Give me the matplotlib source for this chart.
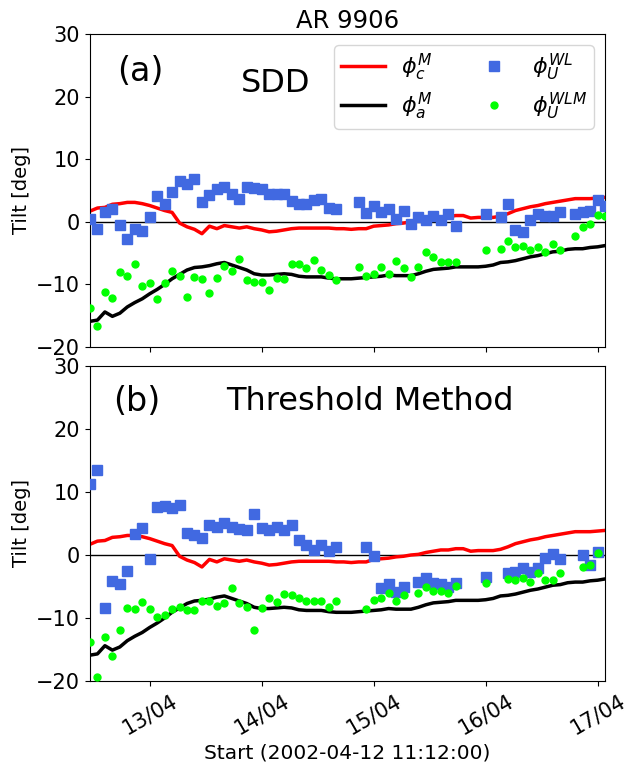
import numpy as np
import matplotlib
matplotlib.use("Agg")
import matplotlib.pyplot as plt
import matplotlib.dates as mdates
from datetime import datetime, timedelta

nan = np.nan
start = datetime(2002, 4, 12, 11, 12, 0)
cadence_min = 96
n_points = 70
times = [start + timedelta(minutes=cadence_min * k) for k in range(n_points)]

phi_c_M = [1.7, 2.2, 2.3, 2.8, 2.9, 3.1, 3.1, 2.9, 2.6, 2.2,
           1.8, 1.5, -0.2, -0.8, -1.2, -1.9, -0.7, -1.1, -0.6, -0.8,
           -1.0, -0.8, -1.1, -1.3, -1.6, -1.5, -1.3, -1.1, -1.0, -1.0,
           -1.0, -1.0, -1.0, -1.1, -1.1, -1.2, -1.1, -1.1, -0.7, -0.6,
           -0.5, -0.3, -0.2, 0.0, 0.1, 0.4, 0.6, 0.8, 0.8, 1.0,
           1.0, 0.6, 0.7, 0.7, 0.7, 0.9, 1.3, 1.8, 2.1, 2.4,
           2.6, 2.9, 3.1, 3.3, 3.5, 3.7, 3.7, 3.7, 3.8, 3.9]

phi_a_M = [-15.9, -15.7, -14.4, -15.1, -14.6, -13.6, -12.9, -12.3, -11.5, -10.8,
           -10.0, -9.1, -8.4, -7.7, -7.3, -7.2, -7.0, -6.7, -6.5, -6.9,
           -7.3, -7.7, -8.3, -8.5, -8.5, -8.4, -8.3, -8.4, -8.7, -8.8,
           -8.8, -8.8, -9.0, -9.1, -9.1, -9.1, -9.0, -8.9, -8.8, -8.7,
           -8.5, -8.6, -8.6, -8.6, -8.3, -7.9, -7.6, -7.5, -7.4, -7.2,
           -7.2, -7.2, -7.2, -7.1, -6.9, -6.5, -6.4, -6.2, -5.9, -5.6,
           -5.4, -5.1, -4.8, -4.7, -4.4, -4.3, -4.3, -4.1, -4.0, -3.8]

sdd_WL = [0.5, -1.2, 1.5, 2.1, -0.5, -2.7, -1.1, -1.5, 0.7, 4.1,
          2.9, 4.7, 6.5, 6.1, 6.9, 3.2, 4.3, 5.3, 5.6, 4.5,
          3.7, 5.6, 5.4, 5.3, 4.5, 4.5, 4.4, 3.3, 2.9, 2.9,
          3.5, 3.6, 2.2, 2.0, nan, nan, 3.1, 1.4, 2.5, 1.5,
          2.0, 0.5, 1.7, -0.4, 0.8, 0.3, 0.9, 0.3, 1.2, -0.7,
          nan, nan, nan, 1.3, nan, 0.8, 2.9, -1.3, -1.6, 0.3,
          1.2, 1.0, 0.9, 1.5, nan, 1.2, 1.5, 1.7, 3.5, 2.5]

sdd_WLM = [-13.7, -16.6, -11.2, -12.1, -8.0, -8.6, -6.7, -10.2, -9.8, -12.4,
           -9.8, -7.9, -8.7, -12.0, -8.8, -9.1, -11.3, -9.0, -7.0, -7.8,
           -5.9, -9.3, -9.6, -9.6, -10.9, -9.0, -9.1, -6.8, -6.8, -7.3,
           -6.1, -7.7, -8.5, -9.3, nan, nan, -7.2, -8.6, -8.3, -7.2,
           -8.4, -6.3, -7.3, -8.8, -7.2, -4.9, -5.6, -6.4, -6.5, -6.5,
           nan, nan, nan, -4.5, nan, -4.4, -3.0, -4.0, -3.9, -4.5,
           -4.1, -4.8, -3.5, -4.5, nan, -2.3, -0.8, -0.3, 1.1, 1.0]

thr_WL = [11.2, 13.5, -8.4, -4.1, -4.6, -2.5, 3.4, 4.3, -0.6, 7.6,
          7.7, 7.4, 7.9, 3.5, 3.2, 2.7, 4.7, 4.5, 5.1, 4.4,
          4.1, 3.9, 6.5, 4.3, 4.0, 4.4, 3.9, 4.7, 2.4, 1.6,
          0.8, 1.6, 0.6, 1.2, nan, nan, nan, 1.2, -0.2, -5.2,
          -4.6, -5.9, -5.1, nan, -4.3, -3.7, -4.4, -4.6, -5.1, -4.4,
          nan, nan, nan, -3.5, nan, nan, -2.9, -2.7, -2.1, -2.7,
          -2.0, -0.5, 0.2, -0.6, nan, nan, 0.0, -1.6, 0.4, nan]

thr_WLM = [-13.8, -19.4, -13.0, -16.1, -11.9, -8.4, -8.5, -7.4, -8.5, -9.8,
           -9.5, -8.5, -8.2, -8.7, -8.7, -7.3, -7.3, -8.1, -7.6, -5.3,
           -7.6, -8.2, -11.9, -8.4, -6.8, -7.4, -6.2, -6.4, -6.9, -7.3,
           -7.3, -7.3, -8.2, -7.3, nan, nan, nan, -8.5, -7.1, -6.8,
           -6.1, -7.3, -6.4, nan, -6.0, -5.1, -5.7, -5.7, -6.0, -4.9,
           nan, nan, nan, -4.5, nan, nan, -3.8, -3.9, -3.6, -4.3,
           -2.8, -4.0, -3.9, -2.8, nan, nan, -1.9, -1.6, 0.3, nan]

panel_labels = ["(a)", "(b)"]
method_labels = ["SDD", "Threshold Method"]
y_ticks = [-20, -10, 0, 10, 20, 30]

fig = plt.figure(figsize=(6.27, 7.62), dpi=100)
ax1 = fig.add_axes([0.1435, 0.5446, 0.8215, 0.4108])
ax2 = fig.add_axes([0.1435, 0.1063, 0.8215, 0.4134], sharex=ax1)

panels = [(ax1, sdd_WL, sdd_WLM), (ax2, thr_WL, thr_WLM)]
for i, (ax, wl, wlm) in enumerate(panels):
    ax.axhline(0, color="black", lw=1.0, zorder=1)
    ax.plot(times, phi_c_M, color="red", lw=2.5, label=r"$\phi_c^M$", zorder=2)
    ax.plot(times, phi_a_M, color="black", lw=2.5, label=r"$\phi_a^M$", zorder=2)
    ax.plot(times, wl, ls="none", marker="s", ms=7.5, color="royalblue",
            label=r"$\phi_U^{WL}$", zorder=3)
    ax.plot(times, wlm, ls="none", marker="o", ms=5, color="lime",
            label=r"$\phi_U^{WLM}$", zorder=4)
    ax.set_ylim(-20, 30)
    ax.set_yticks(y_ticks)
    ax.set_ylabel("Tilt [deg]", fontsize=14)
    ax.tick_params(labelsize=15)

ax1.set_xlim(times[0], times[-1])
ax1.xaxis.set_major_locator(mdates.DayLocator())
ax1.xaxis.set_major_formatter(mdates.DateFormatter("%d/%m"))
plt.setp(ax1.get_xticklabels(), visible=False)
for lbl in ax2.get_xticklabels():
    lbl.set_rotation(30)

ax1.set_title("AR 9906", fontsize=17.5, pad=4)
ax2.set_xlabel("Start (2002-04-12 11:12:00)", fontsize=14.5)

ax1.text(0.052, 0.88, panel_labels[0], transform=ax1.transAxes, fontsize=24,
         ha="left", va="center")
ax1.text(0.361, 0.843, method_labels[0], transform=ax1.transAxes, fontsize=23,
         ha="center", va="center")
ax2.text(0.045, 0.886, panel_labels[1], transform=ax2.transAxes, fontsize=24,
         ha="left", va="center")
ax2.text(0.544, 0.886, method_labels[1], transform=ax2.transAxes, fontsize=23,
         ha="center", va="center")

ax1.legend(loc="upper right", ncol=2, fontsize=16, borderpad=0.3,
           labelspacing=0.35, handletextpad=0.7, columnspacing=1.8)

fig.savefig("out.png", dpi=100)
